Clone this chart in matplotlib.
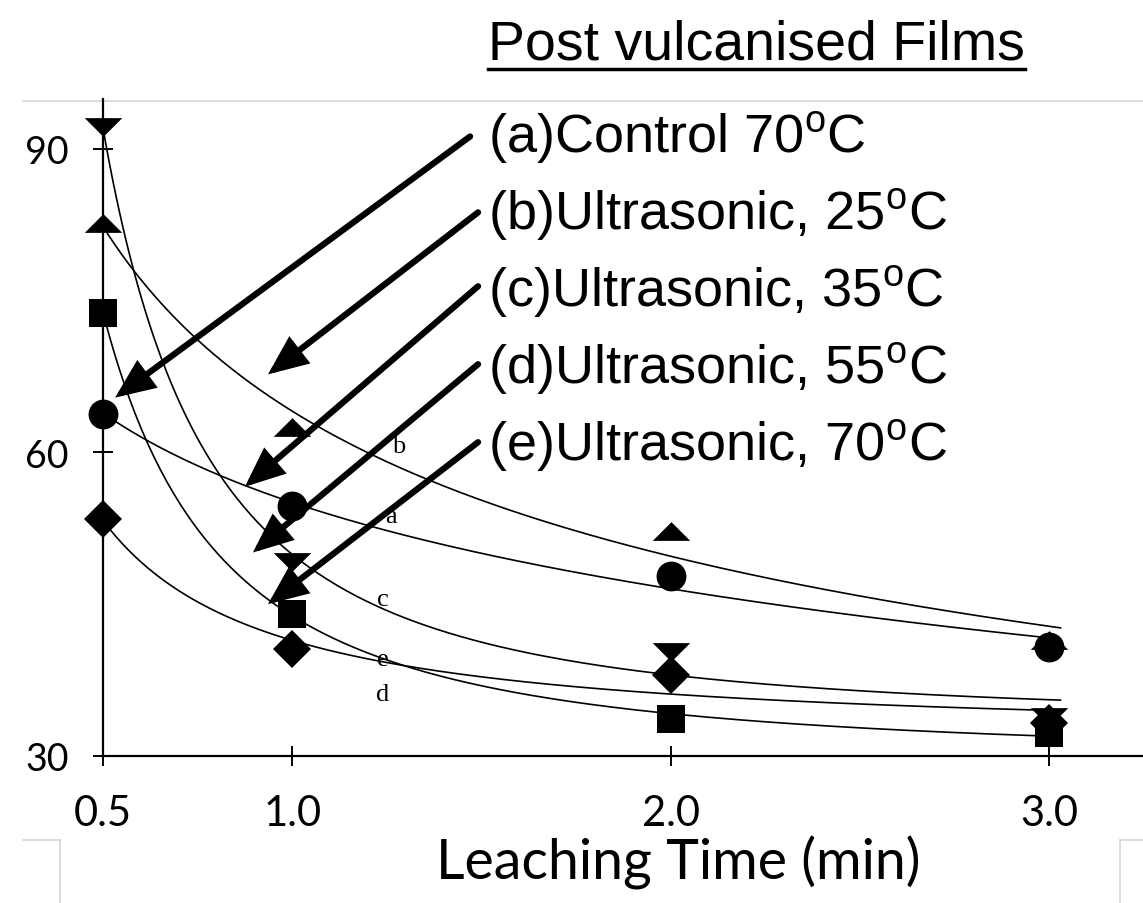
import numpy as np
import matplotlib
matplotlib.use("Agg")
import matplotlib.pyplot as plt
from matplotlib.path import Path
from matplotlib.lines import Line2D
from matplotlib import font_manager

# ---------------- data ----------------
leach_time = [0.5, 1.0, 2.0, 3.0]
control_70 = [63.8, 54.7, 47.8, 40.8]   # (a) circle
ultra_25 = [82.7, 62.5, 52.2, 41.5]     # (b) up triangle
ultra_35 = [92.1, 49.2, 40.3, 33.9]     # (c) down triangle
ultra_55 = [73.8, 44.0, 33.7, 32.3]     # (d) square
ultra_70 = [53.4, 40.6, 38.0, 33.3]     # (e) diamond
x_ticks = [0.5, 1.0, 2.0, 3.0]
x_tick_labels = ["0.5", "1.0", "2.0", "3.0"]
y_ticks = [30, 60, 90]
y_tick_labels = ["30", "60", "90"]
title_text = "Post vulcanised Films"
legend_texts = ["(a)Control 70$^{\\mathrm{o}}$C",
                "(b)Ultrasonic, 25$^{\\mathrm{o}}$C",
                "(c)Ultrasonic, 35$^{\\mathrm{o}}$C",
                "(d)Ultrasonic, 55$^{\\mathrm{o}}$C",
                "(e)Ultrasonic, 70$^{\\mathrm{o}}$C"]
curve_letters = ["a", "b", "c", "d", "e"]
x_label = "Leaching Time (min)"

# ---------------- fonts ----------------
available = {f.name for f in font_manager.fontManager.ttflist}
if "Liberation Sans Narrow" in available:
    LEG_FONT, LEG_SIZE = "Liberation Sans Narrow", 45
else:
    LEG_FONT, LEG_SIZE = "Liberation Sans", 39
plt.rcParams["mathtext.fontset"] = "custom"
plt.rcParams["mathtext.rm"] = LEG_FONT
plt.rcParams["mathtext.it"] = LEG_FONT
TICK_FONT = "Lato"

W, H = 1143, 904
fig = plt.figure(figsize=(W / 100, H / 100), dpi=100)
fig.patch.set_facecolor("white")
ax = fig.add_axes([103 / W, (H - 757) / H, (W - 103) / W, 657 / H])
ax.set_xlim(0.5, 3.248)
ax.set_ylim(30, 94.9)
ax.set_facecolor("none")
for s in ["top", "right"]:
    ax.spines[s].set_visible(False)
for s in ["left", "bottom"]:
    ax.spines[s].set_linewidth(1.6)
    ax.spines[s].set_color("black")

# markers
tri_up = Path([(-1, -0.5), (1, -0.5), (0, 0.5), (-1, -0.5)],
              [Path.MOVETO, Path.LINETO, Path.LINETO, Path.CLOSEPOLY])
tri_dn = Path([(-1, 0.5), (1, 0.5), (0, -0.5), (-1, 0.5)],
              [Path.MOVETO, Path.LINETO, Path.LINETO, Path.CLOSEPOLY])

series = [
    (control_70, "o", 21.5),
    (ultra_25, tri_up, 27),
    (ultra_35, tri_dn, 27),
    (ultra_55, "s", 20),
    (ultra_70, "D", 19),
]


def power_fit(xv, yv):
    xv = np.asarray(xv, float)
    yv = np.asarray(yv, float)
    best = None
    for p in np.linspace(0.05, 4.0, 400):
        A = np.column_stack([np.ones_like(xv), xv ** (-p)])
        coef, *_ = np.linalg.lstsq(A, yv, rcond=None)
        r = np.sum((A @ coef - yv) ** 2)
        if best is None or r < best[0]:
            best = (r, p, coef)
    _, p, coef = best
    return lambda t: coef[0] + coef[1] * np.asarray(t) ** (-p)


xs = np.linspace(0.5, 3.03, 300)
for vals, mk, ms in series:
    f = power_fit(leach_time, vals)
    ax.plot(xs, f(xs), color="black", lw=1.2, clip_on=False, zorder=2)
    ax.plot(leach_time, vals, linestyle="none", marker=mk, markersize=ms,
            color="black", markeredgewidth=0, clip_on=False, zorder=3)

# curve letters (serif, small)
letter_pos = {"b": (1.28, 60.6), "a": (1.26, 53.7), "c": (1.24, 45.5),
              "e": (1.24, 39.6), "d": (1.24, 36.1)}
for L in curve_letters:
    lx, ly = letter_pos[L]
    ax.text(lx, ly, L, family="Liberation Serif", fontsize=19,
            ha="center", va="center", zorder=4)

# ticks
ax.set_xticks(x_ticks)
ax.set_xticklabels(x_tick_labels, family=TICK_FONT, fontsize=30)
ax.set_yticks(y_ticks)
ax.set_yticklabels(y_tick_labels, family=TICK_FONT, fontsize=27)
ax.tick_params(axis="both", direction="inout", length=15, width=1.4,
               color="black")
ax.tick_params(axis="x", pad=20)
ax.tick_params(axis="y", pad=17)

ax.set_xlabel(x_label, family=TICK_FONT, fontsize=40)
ax.xaxis.label.set_va("baseline")
ax.xaxis.set_label_coords((678 - 103) / 1040, -(880 - 757) / 657)

# legend-like overlay text
title = fig.text(488 / W, 1 - 60 / H, title_text, family=LEG_FONT,
                 fontsize=LEG_SIZE + 1, ha="left", va="baseline")
baselines = [153, 230, 307, 384, 461]
for t, b in zip(legend_texts, baselines):
    fig.text(488 / W, 1 - b / H, t, family=LEG_FONT, fontsize=LEG_SIZE,
             ha="left", va="baseline")

# arrows (data coordinates: head, tail)
arrows = [((0.532, 65.4), (1.470, 91.2)),
          ((0.936, 67.7), (1.491, 83.7)),
          ((0.875, 56.6), (1.491, 76.4)),
          ((0.896, 50.1), (1.491, 68.7)),
          ((0.936, 45.0), (1.491, 61.0))]
for head, tail in arrows:
    ax.annotate("", xy=head, xytext=tail, annotation_clip=False,
                arrowprops=dict(arrowstyle="-|>,head_length=0.7,head_width=0.3",
                                mutation_scale=30, lw=4.5, color="black",
                                shrinkA=0, shrinkB=0, joinstyle="miter"),
                zorder=5)

# underline title
fig.canvas.draw()
bb = title.get_window_extent()
uy = (H - 70) / H
fig.add_artist(Line2D([bb.x0 / W, bb.x1 / W], [uy, uy], transform=fig.transFigure,
                      color="black", lw=2.5))

# faint scan-frame lines
gray = "#d6d6d6"
frame_lines = [([23, W], [102, 102]),
               ([23, 60], [841, 841]), ([60, 60], [841, H]),
               ([1120, W], [841, 841]), ([1120, 1120], [841, H])]
for xx, yy in frame_lines:
    fig.add_artist(Line2D([v / W for v in xx], [1 - v / H for v in yy],
                          transform=fig.transFigure, color=gray, lw=1.2,
                          zorder=0))

fig.savefig("out.png", dpi=100, facecolor="white")
